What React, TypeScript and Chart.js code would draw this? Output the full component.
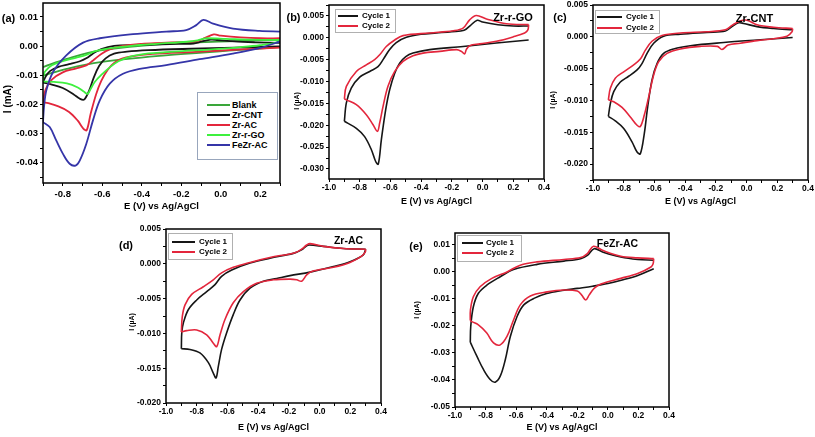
import React, { useEffect, useRef } from "react";
import { Chart, registerables } from "chart.js";

Chart.register(...registerables);

type Pt = [number, number];

const FONT = '"Liberation Sans", Arial, Helvetica, sans-serif';
const BLACK = "#161616";
const RED = "#e3263c";
const BLUE = "#3535a8";
const LIME = "#3ef03e";
const GREEN = "#3aa63a";

// ---------- Panel (b) Zr-r-GO ----------
const bCycle1Cathodic: Pt[] = [[0.3,-0.0005],[0.09,-0.0012],[-0.127,-0.002],[-0.344,-0.0027],[-0.453,-0.0035],[-0.5,-0.0043],[-0.54,-0.0058],[-0.572,-0.0081],[-0.605,-0.0119],[-0.631,-0.0165],[-0.659,-0.0233],[-0.679,-0.0289],[-0.696,-0.0283],[-0.724,-0.0256],[-0.768,-0.0226],[-0.822,-0.0207],[-0.9,-0.0191]];
const bCycle1Anodic: Pt[] = [[-0.9,-0.0191],[-0.887,-0.0149],[-0.855,-0.0115],[-0.8,-0.009],[-0.735,-0.0077],[-0.681,-0.0066],[-0.648,-0.005],[-0.605,-0.0027],[-0.562,-0.0011],[-0.496,0.0001],[-0.4,0.0008],[-0.3,0.0011],[-0.2,0.0014],[-0.12,0.0017],[-0.08,0.0028],[-0.035,0.004],[0.0,0.0036],[0.1,0.003],[0.2,0.0027],[0.3,0.0027]];
const bCycle2Cathodic: Pt[] = [[0.3,0.003],[0.295,0.0018],[0.274,0.0011],[0.198,0.0002],[0.09,-0.0008],[-0.019,-0.0014],[-0.084,-0.0018],[-0.106,-0.0027],[-0.117,-0.0037],[-0.138,-0.0031],[-0.17,-0.0027],[-0.279,-0.0031],[-0.388,-0.0035],[-0.453,-0.0041],[-0.518,-0.0054],[-0.572,-0.0077],[-0.616,-0.0111],[-0.648,-0.0157],[-0.67,-0.0195],[-0.685,-0.0214],[-0.713,-0.0199],[-0.757,-0.0176],[-0.822,-0.0153],[-0.887,-0.0142],[-0.9,-0.014]];
const bCycle2Anodic: Pt[] = [[-0.9,-0.014],[-0.887,-0.0111],[-0.822,-0.0077],[-0.757,-0.0062],[-0.703,-0.005],[-0.67,-0.0039],[-0.627,-0.002],[-0.572,-0.0005],[-0.518,0.0005],[-0.344,0.0011],[-0.19,0.0016],[-0.127,0.0022],[-0.084,0.0041],[-0.041,0.0051],[0.025,0.0043],[0.155,0.0032],[0.3,0.003]];

// ---------- Panel (c) Zr-CNT ----------
const cCycle1Cathodic: Pt[] = [[0.3,-0.0001],[0.068,-0.0005],[-0.149,-0.0009],[-0.366,-0.0014],[-0.475,-0.0019],[-0.54,-0.0026],[-0.583,-0.0042],[-0.616,-0.0068],[-0.644,-0.011],[-0.666,-0.0152],[-0.692,-0.0184],[-0.713,-0.0181],[-0.746,-0.0165],[-0.8,-0.0144],[-0.855,-0.0132],[-0.9,-0.0125]];
const cCycle1Anodic: Pt[] = [[-0.9,-0.0125],[-0.887,-0.0105],[-0.865,-0.0086],[-0.822,-0.0071],[-0.768,-0.0062],[-0.713,-0.0052],[-0.681,-0.0042],[-0.648,-0.0026],[-0.605,-0.001],[-0.54,0.0001],[-0.431,0.0004],[-0.258,0.0007],[-0.138,0.0009],[-0.095,0.0016],[-0.051,0.0022],[-0.019,0.0021],[0.068,0.0016],[0.176,0.0013],[0.3,0.0011]];
const cCycle2Cathodic: Pt[] = [[0.3,0.0013],[0.296,0.0008],[0.263,0.0001],[0.176,-0.0003],[0.068,-0.0006],[-0.041,-0.001],[-0.12,-0.0013],[-0.16,-0.002],[-0.19,-0.0015],[-0.301,-0.0015],[-0.431,-0.0019],[-0.518,-0.0026],[-0.572,-0.0039],[-0.605,-0.006],[-0.637,-0.0094],[-0.666,-0.0123],[-0.692,-0.0141],[-0.713,-0.0139],[-0.757,-0.0126],[-0.811,-0.0111],[-0.865,-0.0102],[-0.9,-0.0099]];
const cCycle2Anodic: Pt[] = [[-0.9,-0.0099],[-0.887,-0.0081],[-0.855,-0.0065],[-0.8,-0.0055],[-0.735,-0.0044],[-0.692,-0.0035],[-0.659,-0.0021],[-0.616,-0.0007],[-0.551,0.0002],[-0.431,0.0006],[-0.258,0.0008],[-0.138,0.0011],[-0.095,0.0018],[-0.041,0.0025],[0.003,0.0026],[0.068,0.0019],[0.176,0.0015],[0.3,0.0013]];

// ---------- Panel (d) Zr-AC ----------
const dCycle1Cathodic: Pt[] = [[0.3,0.0021],[0.285,0.0013],[0.198,0.0003],[0.09,-0.0004],[-0.062,-0.0012],[-0.192,-0.0017],[-0.279,-0.0021],[-0.366,-0.0025],[-0.453,-0.0035],[-0.518,-0.0052],[-0.562,-0.0073],[-0.605,-0.0099],[-0.638,-0.0123],[-0.659,-0.0147],[-0.674,-0.0164],[-0.692,-0.0157],[-0.724,-0.0142],[-0.779,-0.0128],[-0.844,-0.0123],[-0.9,-0.0122]];
const dCycle1Anodic: Pt[] = [[-0.9,-0.0122],[-0.897,-0.0098],[-0.887,-0.0085],[-0.855,-0.0066],[-0.8,-0.0052],[-0.735,-0.004],[-0.681,-0.003],[-0.638,-0.0018],[-0.572,-0.0009],[-0.453,0.0001],[-0.323,0.0008],[-0.171,0.0015],[-0.117,0.002],[-0.084,0.0026],[-0.067,0.0027],[0.025,0.0025],[0.155,0.0022],[0.3,0.0021]];
const dCycle2Cathodic: Pt[] = [[0.3,0.0021],[0.298,0.0017],[0.274,0.0011],[0.198,0.0002],[0.09,-0.0005],[-0.051,-0.0011],[-0.084,-0.0016],[-0.117,-0.0025],[-0.149,-0.0023],[-0.192,-0.0022],[-0.301,-0.0023],[-0.41,-0.0028],[-0.496,-0.004],[-0.562,-0.0056],[-0.616,-0.008],[-0.648,-0.0102],[-0.67,-0.0119],[-0.692,-0.0114],[-0.735,-0.0102],[-0.8,-0.0095],[-0.865,-0.0096],[-0.9,-0.0098]];
const dCycle2Anodic: Pt[] = [[-0.9,-0.0098],[-0.894,-0.0076],[-0.876,-0.0059],[-0.833,-0.0044],[-0.757,-0.0033],[-0.692,-0.0023],[-0.638,-0.0013],[-0.562,-0.0005],[-0.453,0.0002],[-0.323,0.0009],[-0.16,0.0016],[-0.117,0.0021],[-0.084,0.0027],[-0.062,0.0029],[0.025,0.0025],[0.155,0.0022],[0.3,0.0021]];

// ---------- Panel (e) FeZr-AC ----------
const eCycle1Cathodic: Pt[] = [[0.3,0.0012],[0.2,-0.0012],[0.1,-0.0029],[0.0,-0.0043],[-0.1,-0.0053],[-0.2,-0.0061],[-0.3,-0.0069],[-0.4,-0.008],[-0.48,-0.0097],[-0.55,-0.0122],[-0.594,-0.0165],[-0.638,-0.0239],[-0.671,-0.0325],[-0.704,-0.0386],[-0.737,-0.0408],[-0.77,-0.0398],[-0.814,-0.0361],[-0.857,-0.0312],[-0.9,-0.026]];
const eCycle1Anodic: Pt[] = [[-0.9,-0.026],[-0.897,-0.0202],[-0.88,-0.0129],[-0.847,-0.0079],[-0.792,-0.0049],[-0.704,-0.0018],[-0.617,0.0009],[-0.463,0.0028],[-0.288,0.004],[-0.178,0.0049],[-0.134,0.0061],[-0.09,0.0086],[-0.035,0.0074],[0.085,0.0055],[0.195,0.0046],[0.3,0.0043]];
const eCycle2Cathodic: Pt[] = [[0.3,0.0049],[0.296,0.003],[0.282,0.0018],[0.195,-0.0006],[0.085,-0.0024],[-0.046,-0.0045],[-0.09,-0.0061],[-0.123,-0.0086],[-0.145,-0.0104],[-0.171,-0.0086],[-0.2,-0.0071],[-0.288,-0.0067],[-0.397,-0.0074],[-0.507,-0.0089],[-0.573,-0.0122],[-0.617,-0.0178],[-0.66,-0.0239],[-0.704,-0.027],[-0.748,-0.0263],[-0.792,-0.0226],[-0.847,-0.0196],[-0.89,-0.0184],[-0.9,-0.018]];
const eCycle2Anodic: Pt[] = [[-0.9,-0.018],[-0.899,-0.0141],[-0.88,-0.0092],[-0.836,-0.0055],[-0.759,-0.0024],[-0.66,0.0],[-0.573,0.0025],[-0.463,0.0037],[-0.288,0.0046],[-0.178,0.0053],[-0.134,0.0068],[-0.094,0.0095],[-0.035,0.008],[0.085,0.0058],[0.195,0.0052],[0.3,0.0049]];

// ---------- Panel (a) comparison ----------
const blankCathodic: Pt[] = [[0.3,-0.0003],[0.06,-0.0015],[-0.28,-0.0032],[-0.61,-0.0055],[-0.78,-0.0078],[-0.9,-0.0101]];
const blankAnodic: Pt[] = [[-0.9,-0.0072],[-0.78,-0.0044],[-0.61,-0.0015],[-0.28,0.0008],[0.06,0.0017],[0.3,0.0022]];
const aFeZrCathodic: Pt[] = [[0.3,0.0016],[0.2,-0.0006],[0.06,-0.0026],[-0.107,-0.0045],[-0.276,-0.0065],[-0.41,-0.0078],[-0.495,-0.0095],[-0.562,-0.0129],[-0.613,-0.0187],[-0.647,-0.0255],[-0.681,-0.0336],[-0.714,-0.0393],[-0.735,-0.041],[-0.765,-0.0404],[-0.799,-0.037],[-0.833,-0.0324],[-0.866,-0.0278],[-0.9,-0.0261]];
const aFeZrAnodic: Pt[] = [[-0.9,-0.0261],[-0.895,-0.021],[-0.883,-0.0152],[-0.849,-0.0089],[-0.782,-0.0032],[-0.697,0.0012],[-0.613,0.0027],[-0.444,0.0041],[-0.276,0.005],[-0.175,0.0055],[-0.124,0.0072],[-0.088,0.009],[-0.039,0.0077],[0.062,0.006],[0.197,0.0052],[0.3,0.005]];

const legendA = ["Blank", "Zr-CNT", "Zr-AC", "Zr-r-GO", "FeZr-AC"];
const legendCycles = ["Cycle 1", "Cycle 2"];

interface Series { color: string; branches: Pt[][]; }
interface PanelCfg {
  left: number; top: number; width: number; height: number;
  padL: number; padB: number; padR: number;
  xMin: number; xMax: number; yMin: number; yMax: number;
  yMajor: number; yDec: number;
  tickSize: number; titleSize: number;
  xTickPad: number; yTickPad: number;
  lineWidth: number;
  series: Series[];
}

const PAD_T = 8;

const framePlugin = {
  id: "frame",
  afterDraw(chart: any) {
    const { left, top, right, bottom } = chart.chartArea;
    const ctx = chart.ctx;
    ctx.save();
    ctx.strokeStyle = "#000";
    ctx.lineWidth = 1.5;
    ctx.strokeRect(left, top, right - left, bottom - top);
    ctx.restore();
  },
};

function Panel({ cfg }: { cfg: PanelCfg }) {
  const ref = useRef<HTMLCanvasElement>(null);
  const cw = cfg.width + cfg.padL + cfg.padR;
  const ch = cfg.height + PAD_T + cfg.padB;
  useEffect(() => {
    const datasets: any[] = [];
    cfg.series.slice().reverse().forEach((s) => {
      s.branches.forEach((b) => {
        datasets.push({
          data: b.map(([x, y]) => ({ x, y })),
          borderColor: s.color,
          backgroundColor: s.color,
          borderWidth: cfg.lineWidth,
          pointRadius: 0,
          showLine: true,
          tension: 0.35,
          fill: false,
        });
      });
    });
    const minor = cfg.yMajor / 2;
    const tickFont = { family: FONT, size: cfg.tickSize, weight: "bold" as const };
    const chart = new Chart(ref.current as HTMLCanvasElement, {
      type: "scatter",
      data: { datasets },
      options: {
        animation: false,
        responsive: false,
        maintainAspectRatio: false,
        events: [],
        layout: { padding: { left: 0, top: PAD_T, right: cfg.padR, bottom: 0 } },
        plugins: { legend: { display: false }, tooltip: { enabled: false } },
        scales: {
          x: {
            type: "linear",
            min: cfg.xMin,
            max: cfg.xMax,
            afterFit: (s: any) => { s.height = cfg.padB; },
            border: { display: false },
            grid: { drawOnChartArea: false, drawTicks: true, tickLength: 3, color: "#000", tickWidth: 1 },
            ticks: {
              stepSize: 0.1,
              autoSkip: false,
              maxRotation: 0,
              includeBounds: false,
              padding: cfg.xTickPad,
              color: "#000",
              font: tickFont,
              callback: (v: any) => {
                const k = Math.round(Number(v) * 10);
                return k % 2 === 0 ? (k / 10).toFixed(1) : "";
              },
            },
            title: {
              display: true,
              text: "E (V) vs Ag/AgCl",
              color: "#000",
              font: { family: FONT, size: cfg.titleSize, weight: "bold" },
              padding: { top: 0, bottom: 2 },
            },
          },
          y: {
            type: "linear",
            min: cfg.yMin,
            max: cfg.yMax,
            afterFit: (s: any) => { s.width = cfg.padL; },
            border: { display: false },
            grid: { drawOnChartArea: false, drawTicks: true, tickLength: 3, color: "#000", tickWidth: 1 },
            ticks: {
              stepSize: minor,
              autoSkip: false,
              includeBounds: false,
              padding: cfg.yTickPad,
              color: "#000",
              font: tickFont,
              callback: (v: any) => {
                const k = Math.round(Number(v) / minor);
                return k % 2 === 0 ? (k * minor).toFixed(cfg.yDec) : "";
              },
            },
          },
        },
      } as any,
      plugins: [framePlugin],
    });
    return () => chart.destroy();
  }, []);
  return (
    <canvas
      ref={ref}
      width={cw}
      height={ch}
      style={{ position: "absolute", left: cfg.left - cfg.padL, top: cfg.top - PAD_T, width: cw, height: ch }}
    />
  );
}

const Txt = ({ x, y, size, rot, family, children }: any) => (
  <div
    style={{
      position: "absolute",
      left: x,
      top: y,
      transform: `translate(-50%,-50%)${rot ? " rotate(-90deg)" : ""}`,
      font: `bold ${size}px ${family || FONT}`,
      whiteSpace: "nowrap",
      lineHeight: 1,
      color: "#000",
    }}
  >
    {children}
  </div>
);

function Legend({ box, items, lineX, textX, rowY, size, border }: any) {
  const [l, t, r, b] = box;
  return (
    <>
      <div style={{ position: "absolute", left: l, top: t, width: r - l, height: b - t, border: `1px solid ${border}`, background: "#fff", boxSizing: "border-box" }} />
      {items.map((it: any, i: number) => (
        <React.Fragment key={i}>
          <div style={{ position: "absolute", left: lineX[0], top: rowY[i] - 1, width: lineX[1] - lineX[0], height: 2, background: it.color }} />
          <div style={{ position: "absolute", left: textX, top: rowY[i], transform: "translateY(-50%)", font: `bold ${size}px ${FONT}`, lineHeight: 1, whiteSpace: "nowrap", color: "#000" }}>
            {it.label}
          </div>
        </React.Fragment>
      ))}
    </>
  );
}

const cfgA: PanelCfg = {
  left: 43, top: 3, width: 237, height: 180, padL: 43, padB: 31, padR: 4,
  xMin: -0.9, xMax: 0.3, yMin: -0.047, yMax: 0.0148, yMajor: 0.01, yDec: 2,
  tickSize: 9.5, titleSize: 9.5, xTickPad: 3, yTickPad: 2, lineWidth: 1.8,
  series: [
    { color: GREEN, branches: [blankCathodic, blankAnodic] },
    { color: BLACK, branches: [cCycle1Cathodic, cCycle1Anodic] },
    { color: RED, branches: [bCycle1Cathodic, bCycle1Anodic] },
    { color: LIME, branches: [dCycle1Cathodic, dCycle1Anodic] },
    { color: BLUE, branches: [aFeZrCathodic, aFeZrAnodic] },
  ],
};

const small = { tickSize: 8.5, titleSize: 9, xTickPad: 1, yTickPad: 2, lineWidth: 1.6, xMin: -1.0, xMax: 0.4, padR: 10 };

const cfgB: PanelCfg = {
  ...small, left: 329, top: 5, width: 215, height: 174, padL: 40, padB: 30,
  yMin: -0.0323, yMax: 0.0075, yMajor: 0.005, yDec: 3,
  series: [
    { color: BLACK, branches: [bCycle1Cathodic, bCycle1Anodic] },
    { color: RED, branches: [bCycle2Cathodic, bCycle2Anodic] },
  ],
};
const cfgC: PanelCfg = {
  ...small, left: 593, top: 5, width: 215, height: 175, padL: 44, padB: 29,
  yMin: -0.0225, yMax: 0.005, yMajor: 0.005, yDec: 3,
  series: [
    { color: BLACK, branches: [cCycle1Cathodic, cCycle1Anodic] },
    { color: RED, branches: [cCycle2Cathodic, cCycle2Anodic] },
  ],
};
const cfgD: PanelCfg = {
  ...small, left: 166, top: 229, width: 215, height: 174, padL: 40, padB: 32,
  yMin: -0.02, yMax: 0.005, yMajor: 0.005, yDec: 3,
  series: [
    { color: BLACK, branches: [dCycle1Cathodic, dCycle1Anodic] },
    { color: RED, branches: [dCycle2Cathodic, dCycle2Anodic] },
  ],
};
const cfgE: PanelCfg = {
  ...small, left: 455, top: 233, width: 214, height: 174, padL: 40, padB: 28,
  yMin: -0.05, yMax: 0.0144, yMajor: 0.01, yDec: 2,
  series: [
    { color: BLACK, branches: [eCycle1Cathodic, eCycle1Anodic] },
    { color: RED, branches: [eCycle2Cathodic, eCycle2Anodic] },
  ],
};

const cycleItems = [
  { label: legendCycles[0], color: BLACK },
  { label: legendCycles[1], color: RED },
];

export default function App() {
  return (
    <div style={{ position: "absolute", left: 0, top: 0, width: 815, height: 437, overflow: "hidden", background: "#fff" }}>
      <Panel cfg={cfgA} />
      <Panel cfg={cfgB} />
      <Panel cfg={cfgC} />
      <Panel cfg={cfgD} />
      <Panel cfg={cfgE} />

      {/* panel labels */}
      <Txt x={8.5} y={17.5} size={11}>(a)</Txt>
      <Txt x={293.5} y={17} size={11}>(b)</Txt>
      <Txt x={560} y={16.5} size={11}>(c)</Txt>
      <Txt x={126} y={244.5} size={11}>(d)</Txt>
      <Txt x={416} y={245.5} size={11}>(e)</Txt>

      {/* y-axis titles */}
      <Txt x={7.7} y={99} size={10} rot>I (mA)</Txt>
      <Txt x={295.5} y={100.5} size={7} rot>I (µA)</Txt>
      <Txt x={551.7} y={100} size={7} rot>I (µA)</Txt>
      <Txt x={130.7} y={322} size={7} rot>I (µA)</Txt>
      <Txt x={416} y={309.5} size={7} rot>I (µA)</Txt>

      {/* in-plot sample names */}
      <Txt x={513} y={17} size={11}>Zr-r-GO</Txt>
      <Txt x={754.5} y={17.5} size={11}>Zr-CNT</Txt>
      <Txt x={348.5} y={240} size={10.5}>Zr-AC</Txt>
      <Txt x={617.5} y={243} size={10.5}>FeZr-AC</Txt>

      {/* legends */}
      <Legend
        box={[197, 92, 278, 160]}
        items={[
          { label: legendA[0], color: GREEN },
          { label: legendA[1], color: BLACK },
          { label: legendA[2], color: RED },
          { label: legendA[3], color: LIME },
          { label: legendA[4], color: BLUE },
        ]}
        lineX={[207, 230]}
        textX={232}
        rowY={[105, 114.5, 124.5, 135, 145]}
        size={9}
        border="#98a6bc"
      />
      <Legend box={[335, 9, 396, 33]} items={cycleItems} lineX={[338, 358]} textX={362} rowY={[16, 26]} size={8} border="#b0b0b0" />
      <Legend box={[595, 10, 660, 34]} items={cycleItems} lineX={[597, 622]} textX={626} rowY={[16.5, 27.5]} size={8} border="#b0b0b0" />
      <Legend box={[168, 233, 233, 260]} items={cycleItems} lineX={[172, 195]} textX={199} rowY={[241.7, 251.7]} size={8} border="#b0b0b0" />
      <Legend box={[457, 235, 522, 262]} items={cycleItems} lineX={[462, 483]} textX={486} rowY={[243.3, 252.7]} size={8} border="#b0b0b0" />
    </div>
  );
}
